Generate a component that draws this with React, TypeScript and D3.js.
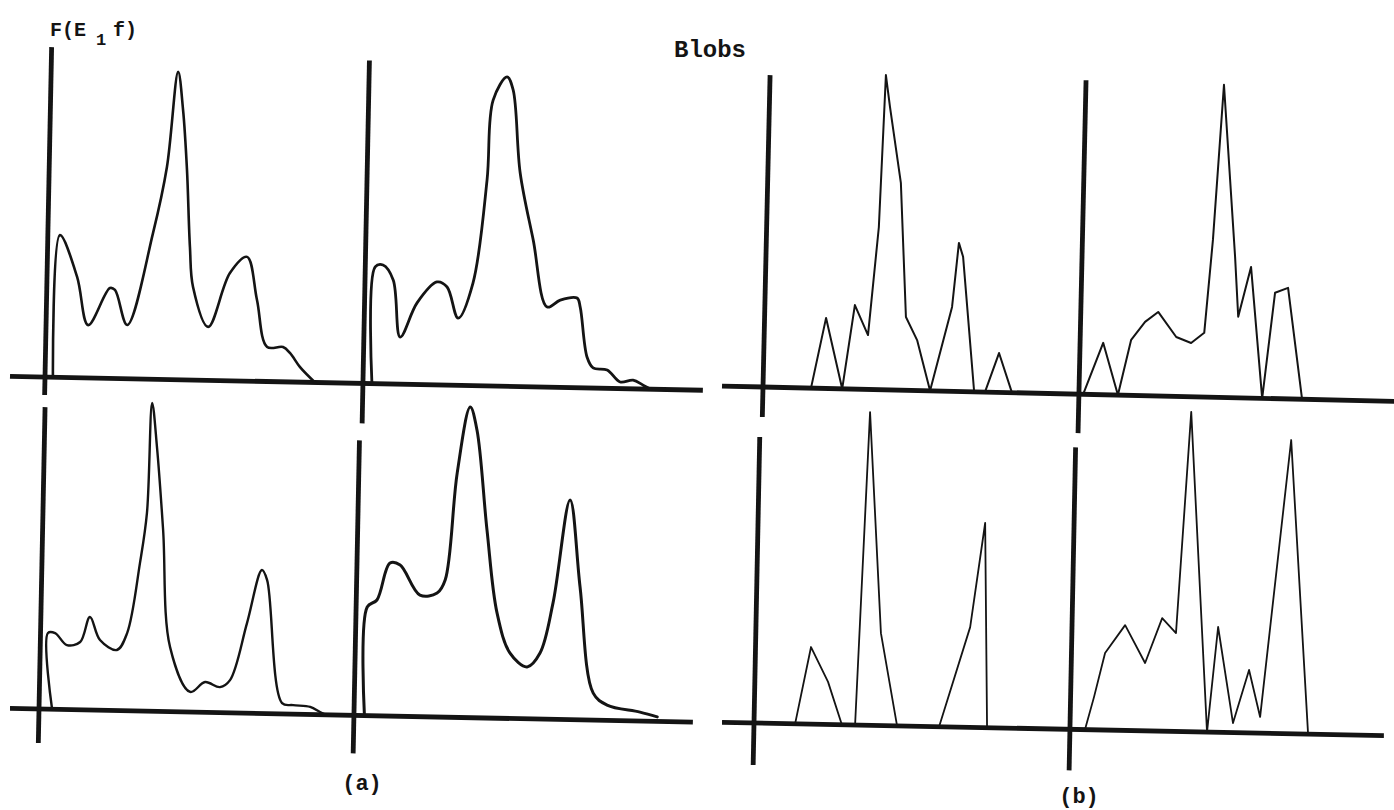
import React from "react";
import * as d3 from "d3";

const W = 1394;
const H = 810;

// ---- (a) smoothed spectra ----
const aTopLeftX = [3.3, 4.7, 10.7, 14.7, 21.7, 23.4, 27.7, 35.7, 39.9, 43.0, 44.9, 46.6, 48.1, 49.4, 54.7, 61.6, 67.2, 70.8, 74.5, 79.8, 82.2, 85.6, 90.7];
const aTopLeftY = [0, 47.4, 33.6, 17.6, 30.1, 29.5, 17.9, 48.7, 70.8, 102.6, 89.9, 70.0, 44.3, 31.0, 17.8, 35.9, 41.4, 27.1, 11.5, 11.6, 9.6, 5.0, 0];

const aTopRightX = [3.0, 3.3, 5.9, 9.4, 12.1, 17.5, 24.0, 27.4, 31.3, 36.0, 40.0, 41.5, 46.0, 48.1, 51.0, 55.8, 60.9, 65.2, 70.8, 71.9, 74.5, 76.6, 81.3, 85.7, 90.0, 93.4, 96.0];
const aTopRightY = [0, 38.9, 39.6, 34.7, 15.7, 27.2, 34.3, 32.7, 22.4, 34.2, 68.6, 95.3, 103.1, 98.8, 71.2, 48.9, 26.7, 29.1, 29.9, 26.9, 10.3, 6.7, 6.1, 2.2, 2.9, 1.3, 0];

const aBottomLeftX = [4.7, 2.8, 5.2, 9.2, 13.6, 16.7, 20.2, 25.9, 29.2, 33.0, 35.0, 36.0, 37.9, 40.5, 43.6, 50.6, 55.5, 60.5, 63.8, 69.1, 73.7, 75.5, 81.3, 85.0, 90.7, 94.0, 96.0];
const aBottomLeftY = [0, 25.4, 25.4, 21.5, 22.6, 31.0, 23.4, 20.2, 25.9, 49.3, 66.1, 102.8, 88.1, 60.5, 21.5, 6.7, 10.1, 8.5, 10.9, 30.1, 47.8, 44.5, 3.6, 3.0, 2.5, 0.9, 0];

const aBottomRightX = [3.5, 3.7, 6.9, 11.0, 14.4, 21.2, 26.9, 29.5, 32.8, 36.7, 39.1, 43.1, 47.0, 51.6, 57.4, 61.6, 65.6, 70.6, 74.5, 79.6, 84.3, 95.3, 101.1];
const aBottomRightY = [0, 36.2, 38.6, 51.0, 50.4, 40.5, 41.3, 45.7, 81.5, 103.5, 95.9, 62.7, 35.1, 21.8, 17.3, 22.0, 38.8, 73.2, 44.3, 9.0, 5.1, 3.0, 1.5];

// ---- (b) blob spectra ----
const bTopLeftX = [16.0, 20.5, 26.4, 30.0, 34.6, 37.4, 38.6, 40.2, 44.4, 47.1, 51.0, 55.7, 62.4, 64.2, 65.7, 70.4, 74.0, 78.4, 83.0];
const bTopLeftY = [0, 23.5, 0, 28.0, 18.1, 54.2, 104.9, 94.3, 69.1, 24.4, 16.8, 0, 28.1, 49.5, 44.9, 0, 0, 13.1, 0];

const bTopRightX = [1.4, 7.7, 13.0, 17.0, 21.5, 25.8, 32.0, 37.0, 41.3, 43.5, 46.0, 51.0, 52.5, 56.4, 61.1, 64.6, 68.9, 74.4];
const bTopRightY = [0, 17.3, 0, 18.5, 24.6, 28.0, 19.8, 17.9, 21.4, 52.5, 104.2, 47.0, 27.0, 43.7, 0, 35.3, 37.0, 0];

const bBottomLeftX = [13.7, 18.5, 24.4, 29.3, 33.7, 36.6, 41.7, 47.7, 61.7, 71.4, 75.7, 77.7];
const bBottomLeftY = [0, 25.7, 14.2, 0, 0, 104.4, 30.8, 0, 0, 33.4, 68.2, 0];

const bBottomRightX = [5.0, 7.8, 11.2, 17.7, 24.6, 30.0, 34.7, 38.3, 45.7, 48.7, 54.3, 59.3, 63.3, 71.8, 79.4];
const bBottomRightY = [0, 10.9, 25.7, 35.1, 22.6, 37.7, 32.8, 106.6, 0, 35.1, 3.2, 21.0, 5.4, 97.9, 0];

// ---- text ----
const yLabelMain = "F(E";
const yLabelSub = "1";
const yLabelEnd = "f)";
const titleText = "Blobs";
const labelA = "(a)";
const labelB = "(b)";

const FONT = "'Courier New', 'Liberation Mono', 'DejaVu Sans Mono', monospace";
const INK = "#141414";

type Panel = { offset: number; xs: number[]; ys: number[]; smooth: boolean; width: number };
type AxisSeg = { u: number; v0: number; v1: number };
type Row = {
  origin: [number, number];
  angle: number;
  xAxis: [number, number];
  yAxes: AxisSeg[];
  panels: Panel[];
};

const rows: Row[] = [
  {
    origin: [43, 377],
    angle: 1.15,
    xAxis: [-33, 660],
    yAxes: [
      { u: 2, v0: -330, v1: 18 },
      { u: 320, v0: -323, v1: 40 },
    ],
    panels: [
      { offset: 0, xs: aTopLeftX, ys: aTopLeftY, smooth: true, width: 2.6 },
      { offset: 320, xs: aTopRightX, ys: aTopRightY, smooth: true, width: 2.8 },
    ],
  },
  {
    origin: [38, 709],
    angle: 1.15,
    xAxis: [-28, 655],
    yAxes: [
      { u: 1, v0: -302, v1: 34 },
      { u: 316, v0: -275, v1: 38 },
    ],
    panels: [
      { offset: 0, xs: aBottomLeftX, ys: aBottomLeftY, smooth: true, width: 2.4 },
      { offset: 316, xs: aBottomRightX, ys: aBottomRightY, smooth: true, width: 3.0 },
    ],
  },
  {
    origin: [763, 387],
    angle: 1.3,
    xAxis: [-41, 650],
    yAxes: [
      { u: 0, v0: -312, v1: 30 },
      { u: 316, v0: -314, v1: 39 },
    ],
    panels: [
      { offset: 0, xs: bTopLeftX, ys: bTopLeftY, smooth: false, width: 2.0 },
      { offset: 316, xs: bTopRightX, ys: bTopRightY, smooth: false, width: 2.0 },
    ],
  },
  {
    origin: [754, 723],
    angle: 1.15,
    xAxis: [-32, 630],
    yAxes: [
      { u: 0, v0: -286, v1: 42 },
      { u: 316, v0: -282, v1: 41 },
    ],
    panels: [
      { offset: 0, xs: bBottomLeftX, ys: bBottomLeftY, smooth: false, width: 1.8 },
      { offset: 316, xs: bBottomRightX, ys: bBottomRightY, smooth: false, width: 1.8 },
    ],
  },
];

const yScale = d3.scaleLinear().domain([0, 100]).range([0, -300]);

function PanelPath({ p }: { p: Panel }) {
  const xScale = d3.scaleLinear().domain([0, 100]).range([p.offset, p.offset + 300]);
  const pts = p.xs.map((x, i) => [x, p.ys[i]] as [number, number]);
  const line = d3
    .line<[number, number]>()
    .x((d) => xScale(d[0]))
    .y((d) => yScale(d[1]))
    .curve(p.smooth ? d3.curveCatmullRom.alpha(0.5) : d3.curveLinear);
  return (
    <path
      d={line(pts) || ""}
      fill="none"
      stroke={INK}
      strokeWidth={p.width}
      strokeLinejoin="round"
      strokeLinecap="round"
    />
  );
}

export default function App() {
  return (
    <svg
      width={W}
      height={H}
      viewBox={`0 0 ${W} ${H}`}
      style={{ position: "absolute", left: 0, top: 0, background: "#ffffff" }}
    >
      <rect x={0} y={0} width={W} height={H} fill="#ffffff" />
      {rows.map((r, ri) => (
        <g key={ri} transform={`translate(${r.origin[0]},${r.origin[1]}) rotate(${r.angle})`}>
          <line x1={r.xAxis[0]} y1={0} x2={r.xAxis[1]} y2={0} stroke={INK} strokeWidth={4.8} />
          {r.yAxes.map((a, ai) => (
            <line key={ai} x1={a.u} y1={a.v0} x2={a.u} y2={a.v1} stroke={INK} strokeWidth={4.8} />
          ))}
          {r.panels.map((p, pi) => (
            <PanelPath key={pi} p={p} />
          ))}
        </g>
      ))}
      <text y={36} fontFamily={FONT} fontWeight="bold" fontSize={20} fill={INK}>
        <tspan x={50}>{yLabelMain}</tspan>
        <tspan x={96} dy={9} fontSize={17}>{yLabelSub}</tspan>
        <tspan x={113} dy={-9}>{yLabelEnd}</tspan>
      </text>
      <text x={710} y={57} textAnchor="middle" fontFamily={FONT} fontWeight="bold" fontSize={24} fill={INK}>
        {titleText}
      </text>
      <text x={362} y={790} textAnchor="middle" fontFamily={FONT} fontWeight="bold" fontSize={22} fill={INK}>
        {labelA}
      </text>
      <text x={1079} y={803} textAnchor="middle" fontFamily={FONT} fontWeight="bold" fontSize={22} fill={INK}>
        {labelB}
      </text>
    </svg>
  );
}
